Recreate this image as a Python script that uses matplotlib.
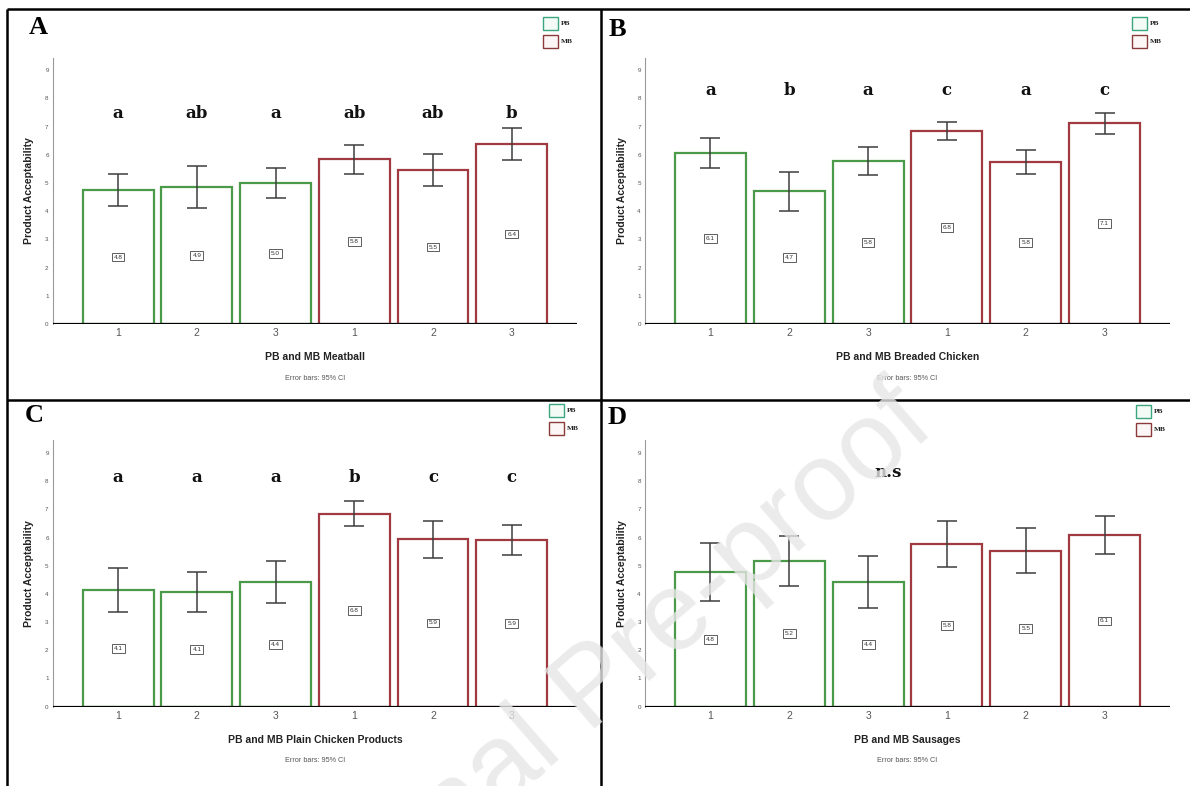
import matplotlib
matplotlib.use("Agg")
import matplotlib.pyplot as plt
import numpy as np
from matplotlib.patches import Rectangle

plt.rcParams["font.family"] = ["Liberation Sans", "DejaVu Sans"]

# ── data ───────────────────────────────────────────────────────
groups = ["PB", "PB", "PB", "MB", "MB", "MB"]
product_ticks = ["1", "2", "3", "1", "2", "3"]

meatball_mean = [4.75, 4.86, 5.00, 5.84, 5.46, 6.38]
meatball_lo = [4.18, 4.12, 4.47, 5.32, 4.89, 5.82]
meatball_hi = [5.32, 5.59, 5.52, 6.35, 6.04, 6.94]
meatball_sig = ["a", "ab", "a", "ab", "ab", "b"]

breaded_mean = [6.07, 4.72, 5.78, 6.84, 5.76, 7.13]
breaded_lo = [5.54, 4.02, 5.28, 6.54, 5.32, 6.75]
breaded_hi = [6.58, 5.39, 6.28, 7.17, 6.18, 7.50]
breaded_sig = ["a", "b", "a", "c", "a", "c"]

plain_mean = [4.13, 4.07, 4.42, 6.84, 5.94, 5.92]
plain_lo = [3.35, 3.36, 3.68, 6.42, 5.28, 5.38]
plain_hi = [4.92, 4.78, 5.18, 7.28, 6.59, 6.46]
plain_sig = ["a", "a", "a", "b", "c", "c"]

sausage_mean = [4.78, 5.18, 4.42, 5.76, 5.53, 6.08]
sausage_lo = [3.75, 4.29, 3.50, 4.95, 4.74, 5.40]
sausage_hi = [5.80, 6.06, 5.34, 6.57, 6.32, 6.76]
sausage_sig = ["n.s"]

# ── layout (pixels of a 1190x786 canvas) ───────────────────────
W, H = 1190, 786
UNIT = 28.2
YTOP = 9.45
COLORS = {"PB": "#4a9a4a", "MB": "#a03a40"}

panels = [
    dict(tag="A", x0=52.8, x1=577, base=324, mean=meatball_mean, lo=meatball_lo,
         hi=meatball_hi, sig=meatball_sig, sig_x=[1, 2, 3, 4, 5, 6], sig_y=7.45,
         xlabel="PB and MB Meatball", tag_xy=(38, 27), leg_xy=(543, 17)),
    dict(tag="B", x0=645, x1=1170, base=324, mean=breaded_mean, lo=breaded_lo,
         hi=breaded_hi, sig=breaded_sig, sig_x=[1, 2, 3, 4, 5, 6], sig_y=8.27,
         xlabel="PB and MB Breaded Chicken", tag_xy=(617, 29), leg_xy=(1132, 17)),
    dict(tag="C", x0=52.8, x1=577, base=706.7, mean=plain_mean, lo=plain_lo,
         hi=plain_hi, sig=plain_sig, sig_x=[1, 2, 3, 4, 5, 6], sig_y=8.14,
         xlabel="PB and MB Plain Chicken Products", tag_xy=(34, 416), leg_xy=(549, 404)),
    dict(tag="D", x0=645, x1=1170, base=706.7, mean=sausage_mean, lo=sausage_lo,
         hi=sausage_hi, sig=sausage_sig, sig_x=[3.25], sig_y=8.31,
         xlabel="PB and MB Sausages", tag_xy=(617, 417), leg_xy=(1136, 405)),
]

fig = plt.figure(figsize=(W / 100, H / 100), dpi=100)
fig.patch.set_facecolor("white")

for p in panels:
    h_px = YTOP * UNIT
    ax = fig.add_axes([p["x0"] / W, (H - p["base"]) / H,
                       (p["x1"] - p["x0"]) / W, h_px / H])
    x = np.arange(1, 7)
    means = np.array(p["mean"])
    lo = np.array(p["lo"])
    hi = np.array(p["hi"])
    edge = [COLORS[g] for g in groups]

    ax.bar(x, means, width=0.9, facecolor="white", edgecolor=edge, linewidth=1.6, zorder=2)
    ax.errorbar(x, means, yerr=[means - lo, hi - means], fmt="none", ecolor="#3d3d3d",
                elinewidth=1.1, capsize=7, capthick=1.1, zorder=3)
    for xi, m in zip(x, means):
        ax.text(xi, m / 2, f"{m:.1f}", ha="center", va="center", fontsize=4.6, color="#333333",
                bbox=dict(boxstyle="square,pad=0.3", fc="white", ec="#444444", lw=0.6), zorder=4)
    for sx, s in zip(p["sig_x"], p["sig"]):
        ax.text(sx, p["sig_y"], s, ha="center", va="center", fontsize=12,
                family="DejaVu Serif", weight="bold", color="#111111")

    ax.axhline(0, color="black", lw=2.3, zorder=5)
    ax.set_xlim(0.17, 6.83)
    ax.set_ylim(0, YTOP)
    ax.set_xticks(x)
    ax.set_xticklabels(product_ticks)
    ax.set_yticks(range(10))
    ax.tick_params(axis="x", length=0, pad=3, labelsize=7.5, labelcolor="#555555")
    ax.tick_params(axis="y", length=0, pad=3, labelsize=4.5, labelcolor="#555555")
    for side in ("top", "right", "bottom"):
        ax.spines[side].set_visible(False)
    ax.spines["left"].set_color("#9a9a9a")
    ax.spines["left"].set_linewidth(0.8)

    ax.set_ylabel("Product Acceptability", fontsize=7.5, weight="bold", color="#222222")
    ax.yaxis.set_label_coords(-0.035, 0.5)
    ax.text(0.5, -33 / h_px, p["xlabel"], transform=ax.transAxes, ha="center", va="center",
            fontsize=7.5, weight="bold", color="#222222")
    ax.text(0.5, -54 / h_px, "Error bars: 95% CI", transform=ax.transAxes, ha="center",
            va="center", fontsize=5.2, color="#555555")

# overlay in pixel coordinates: frames, panel tags, legends
ov = fig.add_axes([0, 0, 1, 1], zorder=10)
ov.set_xlim(0, W)
ov.set_ylim(H, 0)
ov.axis("off")
ov.patch.set_visible(False)

frame = dict(color="black", lw=1.8, solid_capstyle="butt")
ov.plot([7, W], [9, 9], **frame)
ov.plot([7, 7], [9, H], **frame)
ov.plot([601, 601], [9, H], **frame)
ov.plot([7, W], [400, 400], **frame)

for p in panels:
    ov.text(*p["tag_xy"], p["tag"], ha="center", va="center", fontsize=19,
            family="Liberation Serif", weight="bold", color="black")
    lx, ly = p["leg_xy"]
    for i, (name, ec, fc) in enumerate([("PB", "#3aa57e", "#f4fbf7"), ("MB", "#8b3a3a", "#fdf6f6")]):
        y = ly + i * 18
        ov.add_patch(Rectangle((lx, y), 15, 13, facecolor=fc, edgecolor=ec, lw=1.0))
        ov.text(lx + 18, y + 6.5, name, ha="left", va="center", fontsize=5.3,
                family="Liberation Serif", weight="bold", color="#222222")

# watermark (partly outside the canvas, as in the source page)
ov.text(595, 690, "Journal Pre-proof", ha="center", va="center", rotation=41,
        fontsize=80, color="#e6e6e6", alpha=0.8, zorder=20)

fig.savefig("out.png", dpi=100)
